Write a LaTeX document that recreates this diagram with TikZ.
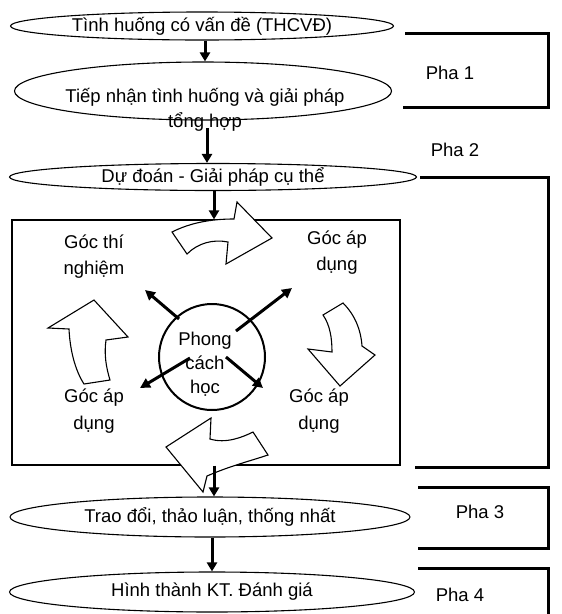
\documentclass[tikz,border=0pt]{standalone}
\usepackage{fontspec}
\setmainfont{Liberation Sans}
\usetikzlibrary{shapes.geometric,arrows.meta}
\tikzset{
  base/.style={font=\fontsize{18.5}{22}\selectfont, inner sep=0pt},
  oval/.style={base, draw, ellipse, line width=1.1pt},
  flowarrow/.style={line width=3pt, -{Triangle[length=9pt,width=10pt]}},
  spoke/.style={line width=3pt, -{Triangle[length=10pt,width=10pt]}},
  bracket/.style={line width=3pt},
  blockarrow/.style={draw, fill=white, line width=1.1pt, line join=miter},
  lbl/.style={base, align=center},
}
\begin{document}
\begin{tikzpicture}[x=1pt,y=-1pt]
\useasboundingbox (0,0) rectangle (562,614);

% ellipses
\node[oval, minimum width=383pt, minimum height=28pt] (e1) at (202,26) {Tình huống có vấn đề (THCVĐ)};
\node[oval, minimum width=377pt, minimum height=58pt] (e2) at (203,91) {};
\node[lbl, font=\fontsize{18.5}{25}\selectfont] (t2) at (205,110) {Tiếp nhận tình huống và giải pháp\\tổng hợp};
\node[oval, minimum width=407pt, minimum height=27pt] (e3) at (213,177) {Dự đoán - Giải pháp cụ thể};
\node[oval, minimum width=400pt, minimum height=40pt] (e4) at (210,517) {Trao đổi, thảo luận, thống nhất};
\node[oval, minimum width=405pt, minimum height=40pt] (e5) at (212,592) {Hình thành KT. Đánh giá};

% central box
\node[draw, line width=1.2pt, minimum width=388pt, minimum height=245pt, inner sep=0pt] (box) at (206,342.5) {};

% block arrows (cycle)
\draw[blockarrow] (172,232) .. controls (190,223) and (210,219) .. (234,219) -- (237,202) -- (272,238) -- (226,264) -- (228,242) .. controls (213,239) and (198,243) .. (187,254) -- cycle;
\draw[blockarrow] (323,315) -- (343,303) .. controls (355,315) and (361,330) .. (362,346) -- (375,355) -- (340,386) -- (308,349) -- (332,352) .. controls (332,338) and (330,325) .. (323,315) -- cycle;
\draw[blockarrow] (268,455) .. controls (250,461) and (230,466) .. (207,476) -- (203,492) -- (166,447) -- (211,418) -- (210,439) .. controls (226,444) and (243,437) .. (253,432) -- cycle;
\draw[blockarrow] (94,300) -- (128,337) -- (106,340) .. controls (104,354) and (106,367) .. (110,380) -- (84,384) .. controls (75,370) and (70,350) .. (69,329) -- (48,328) -- cycle;

% circle
\node[draw, circle, line width=2pt, minimum size=106pt, inner sep=0pt] (c) at (212,357) {};
\node[lbl, font=\fontsize{18.5}{24}\selectfont] (ct) at (205,364) {Phong\\cách\\học};

% spokes
\coordinate (ul0) at (179,319); \coordinate (ul1) at (145,290);
\coordinate (ur0) at (236,331); \coordinate (ur1) at (292,288);
\coordinate (ll0) at (190,358); \coordinate (ll1) at (140,388);
\coordinate (lr0) at (226,357); \coordinate (lr1) at (263,388);
\draw[spoke] (ul0) -- (ul1);
\draw[spoke] (ur0) -- (ur1);
\draw[spoke] (ll0) -- (ll1);
\draw[spoke] (lr0) -- (lr1);

% corner labels
\node[lbl, font=\fontsize{18.5}{26}\selectfont] (g1) at (94,257) {Góc thí\\nghiệm};
\node[lbl, font=\fontsize{18.5}{26}\selectfont] (g2) at (337,253) {Góc áp\\dụng};
\node[lbl, font=\fontsize{18.5}{27}\selectfont] (g3) at (94,411) {Góc áp\\dụng};
\node[lbl, font=\fontsize{18.5}{27}\selectfont] (g4) at (319,411) {Góc áp\\dụng};

% flow arrows
\draw[flowarrow] (e1.south -| 205,0) -- (e2.north -| 205,0);
\draw[flowarrow] (207,128) -- (e3.north -| 207,0);
\draw[flowarrow] (e3.south -| 214,0) -- (box.north -| 214,0);
\draw[flowarrow] (box.south -| 214,0) -- (e4.north -| 214,0);
\draw[flowarrow] (e4.south -| 212,0) -- (e5.north -| 212,0);

% phase brackets
\draw[bracket] (405,33) -- (548,33) -- (548,107) -- (403,107);
\node[base] (p1) at (450,73) {Pha 1};
\node[base] (p2) at (455,150) {Pha 2};
\draw[bracket] (420,177) -- (548,177) -- (548,467) -- (415,467);
\draw[bracket] (418,487) -- (548,487) -- (548,548) -- (418,548);
\node[base] (p3) at (480,512) {Pha 3};
\draw[bracket] (418,568) -- (548,568) -- (548,614);
\node[base] (p4) at (460,595) {Pha 4};
\end{tikzpicture}
\end{document}
